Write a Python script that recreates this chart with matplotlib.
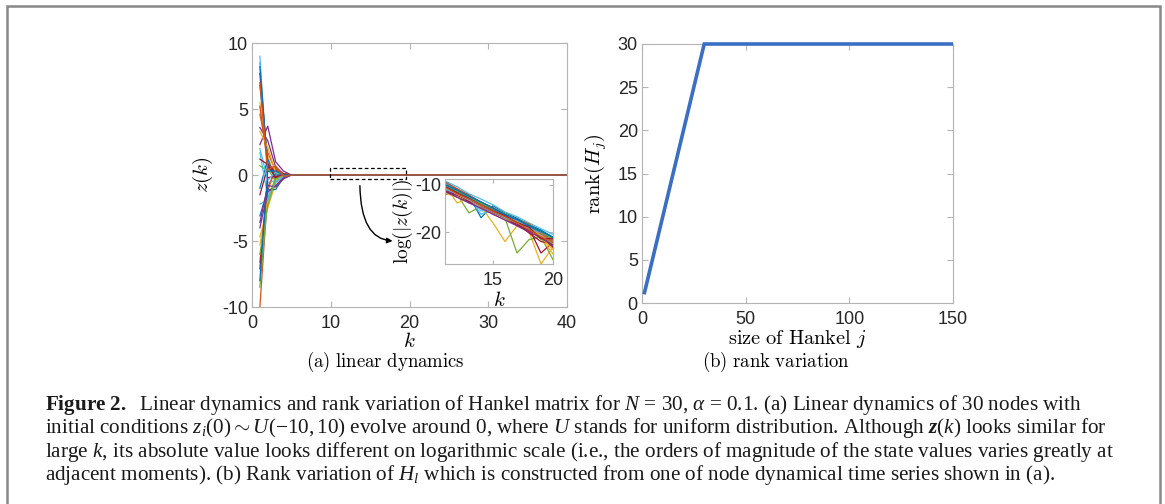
import numpy as np
import matplotlib
matplotlib.use("Agg")
import matplotlib.pyplot as plt
from matplotlib.patches import Rectangle

plt.rcParams['font.family'] = ['Liberation Sans', 'DejaVu Sans']
plt.rcParams['axes.unicode_minus'] = False
plt.rcParams['mathtext.fontset'] = 'custom'
plt.rcParams['mathtext.rm'] = 'Liberation Serif'
plt.rcParams['mathtext.it'] = 'Liberation Serif:italic'
plt.rcParams['mathtext.bf'] = 'Liberation Serif:bold'
plt.rcParams['mathtext.bfit'] = 'Liberation Serif:bold:italic'

# matlab default colour order
colors = ['#0072BD', '#D95319', '#EDB120', '#7E2F8E', '#77AC30', '#4DBEEE', '#A2142F']

# (a) z(k) of the 30 nodes for k = 1..5; ~0 afterwards
k_main = np.arange(1, 41)
z_early = [
    [6.8, 0.9, -0.3, 0.05, 0.0],
    [-10.0, -1.2, 0.6, -0.1, 0.0],
    [5.5, 1.4, -0.2, 0.1, 0.0],
    [3.6, 2.6, 0.6, 0.1, 0.0],
    [8.5, 0.5, -0.5, 0.1, 0.0],
    [9.0, -0.6, -0.4, 0.05, 0.0],
    [7.7, 0.8, 0.2, -0.1, 0.0],
    [-1.0, 1.2, -0.3, 0.0, 0.0],
    [-6.6, -0.9, 0.3, 0.1, 0.0],
    [-4.7, -2.5, -0.6, -0.1, 0.0],
    [2.3, 3.7, 1.0, 0.3, 0.0],
    [-8.5, -1.8, -0.2, 0.0, 0.0],
    [1.7, -1.6, -0.6, -0.1, 0.0],
    [-1.5, 0.6, 0.4, 0.1, 0.0],
    [-3.1, -1.1, -1.1, -0.2, 0.0],
    [4.6, 1.7, 0.3, 0.0, 0.0],
    [-5.3, -2.0, -0.4, 0.0, 0.0],
    [-4.0, -1.3, -0.8, -0.2, 0.0],
    [0.7, 0.3, 0.1, 0.0, 0.0],
    [-2.2, -1.9, -0.5, -0.1, 0.0],
    [-7.1, -0.2, -0.1, 0.0, 0.0],
    [8.2, 0.6, 0.0, 0.0, 0.0],
    [5.2, 0.7, 0.5, -0.1, 0.0],
    [3.3, 2.1, 0.2, 0.1, 0.0],
    [-3.6, -0.8, -0.9, -0.3, 0.0],
    [-6.0, -2.3, -0.3, 0.0, 0.0],
    [2.0, -0.4, 0.2, 0.0, 0.0],
    [1.2, 0.8, -0.2, 0.1, 0.0],
    [-8.0, 0.3, 0.3, 0.0, 0.0],
    [7.0, 0.4, 0.7, -0.1, 0.0],
]

# inset: log(|z(k)|) for k = 11..20
k_inset = np.arange(11, 21)
inset_logz = [
    [-9.4, -10.9, -12.3, -16.9, -14.4, -15.9, -17.0, -18.3, -19.5, -21.0],
    [-10.2, -11.0, -12.6, -13.7, -15.0, -16.1, -17.4, -18.4, -20.0, -21.3],
    [-11.0, -12.3, -13.4, -14.6, -18.0, -21.9, -18.6, -19.8, -26.6, -23.0],
    [-11.8, -12.4, -13.8, -14.8, -16.1, -17.1, -18.5, -19.4, -21.0, -22.0],
    [-10.8, -12.0, -15.9, -14.5, -15.6, -17.0, -24.3, -21.5, -20.9, -25.7],
    [-9.2, -10.4, -11.9, -13.0, -14.2, -15.7, -16.7, -18.0, -19.2, -20.4],
    [-10.4, -11.6, -12.8, -14.1, -15.3, -16.7, -17.9, -19.1, -24.3, -22.0],
    [-9.8, -11.1, -12.2, -13.7, -14.8, -16.2, -17.3, -18.8, -19.8, -21.3],
    [-12.1, -11.5, -13.1, -14.5, -15.5, -16.8, -17.6, -19.4, -20.6, -21.6],
    [-10.1, -13.8, -12.9, -14.0, -15.2, -16.9, -17.7, -19.6, -21.2, -24.5],
    [-10.9, -12.4, -13.0, -14.6, -15.7, -17.2, -18.1, -19.7, -20.2, -22.4],
    [-10.6, -11.9, -13.3, -14.3, -15.3, -16.4, -17.6, -18.7, -20.6, -21.7],
    [-10.0, -11.3, -12.6, -16.2, -15.1, -16.3, -17.8, -18.6, -20.1, -22.9],
    [-11.2, -12.6, -13.5, -15.0, -16.1, -17.3, -18.2, -20.1, -21.9, -22.4],
    [-10.3, -11.4, -12.8, -13.9, -15.4, -16.4, -17.7, -18.8, -20.4, -21.2],
    [-9.5, -10.8, -12.2, -13.6, -14.8, -16.1, -17.3, -18.2, -20.0, -22.0],
    [-11.8, -12.5, -13.2, -14.9, -16.0, -17.2, -18.0, -19.5, -21.0, -23.6],
    [-10.7, -12.0, -13.3, -14.3, -15.6, -16.6, -18.0, -19.2, -20.5, -22.6],
    [-10.5, -11.8, -13.0, -14.2, -15.5, -16.6, -17.9, -19.0, -21.5, -22.1],
    [-9.9, -11.2, -12.5, -15.5, -15.1, -16.5, -17.6, -19.0, -20.3, -21.9],
    [-10.8, -12.1, -13.3, -14.4, -15.8, -16.9, -18.2, -19.6, -20.7, -23.1],
    [-10.2, -11.5, -12.7, -14.0, -15.2, -16.3, -17.3, -18.6, -19.9, -21.1],
    [-11.0, -11.6, -13.2, -14.2, -15.4, -16.8, -17.9, -19.3, -20.4, -21.9],
    [-10.6, -12.0, -13.1, -14.5, -15.5, -16.7, -17.8, -19.1, -20.6, -22.3],
    [-11.4, -12.6, -13.8, -14.9, -16.2, -17.4, -18.6, -19.9, -21.1, -22.7],
    [-10.1, -11.3, -12.5, -13.9, -15.0, -16.0, -17.4, -18.4, -19.8, -21.4],
    [-10.9, -11.9, -13.2, -14.4, -15.7, -16.9, -18.0, -19.3, -20.8, -22.2],
    [-10.4, -11.7, -12.9, -14.3, -15.5, -16.5, -17.9, -18.9, -21.3, -21.3],
    [-10.0, -11.1, -12.4, -13.6, -14.9, -16.2, -17.3, -18.5, -19.7, -21.0],
    [-10.5, -11.9, -13.0, -14.3, -15.6, -16.7, -18.0, -19.4, -20.9, -22.1],
]

# (b) rank of Hankel matrix vs size j (break points)
hankel_j = [1, 30, 150]
hankel_rank = [1, 30, 30]

caption = [
    r"$\mathbf{Figure\ 2.}$  Linear dynamics and rank variation of Hankel matrix for $N$ = 30, $\alpha$ = 0.1. (a) Linear dynamics of 30 nodes with",
    r"initial conditions $z_i(0) \sim U(-10, 10)$ evolve around 0, where $U$ stands for uniform distribution. Although $\mathbfit{z}(k)$ looks similar for",
    r"large $k$, its absolute value looks different on logarithmic scale (i.e., the orders of magnitude of the state values varies greatly at",
    r"adjacent moments). (b) Rank variation of $H_l$ which is constructed from one of node dynamical time series shown in (a).",
]

W, H = 1165, 504
fig = plt.figure(figsize=(W / 100, H / 100), dpi=100)
spine_c = '#b4b4b4'
tick_c = '#262626'


def matlab_axes(ax):
    for s in ax.spines.values():
        s.set_color(spine_c)
        s.set_linewidth(0.8)
    ax.tick_params(direction='in', top=True, right=True, length=4,
                   color=spine_c, labelcolor=tick_c, labelsize=13)
    ax.tick_params(axis='x', pad=6)
    ax.tick_params(axis='y', pad=3)


def px(x0, y0, x1, y1):
    return [x0 / W, 1 - y1 / H, (x1 - x0) / W, (y1 - y0) / H]


# ---- (a)
ax1 = fig.add_axes(px(252, 43, 567, 307))
for i, row in enumerate(z_early):
    z = np.array(row + [0.0] * (len(k_main) - len(row)))
    ax1.plot(k_main, z, color=colors[i % 7], lw=0.9)
ax1.set_xlim(0, 40)
ax1.set_ylim(-10, 10)
ax1.set_xticks([0, 10, 20, 30, 40])
ax1.set_yticks([-10, -5, 0, 5, 10])
matlab_axes(ax1)
ax1.set_xlabel(r'$k$', fontsize=15, math_fontfamily='cm', labelpad=0)
ax1.set_ylabel(r'$z(k)$', fontsize=15, math_fontfamily='cm', labelpad=5)
ax1.add_patch(Rectangle((9.9, -0.32), 9.6, 0.82, fill=False, ec='black',
                        ls=(0, (3, 2)), lw=0.9, zorder=5))
ax1.annotate('', xy=(18.2, -5.0), xytext=(13.7, -0.6),
             arrowprops=dict(arrowstyle='-|>', color='black', lw=1,
                             mutation_scale=8,
                             connectionstyle='angle3,angleA=90,angleB=0'))

# inset
axi = fig.add_axes(px(445, 179, 553, 264))
for i, row in enumerate(inset_logz):
    axi.plot(k_inset, row, color=colors[i % 7], lw=0.9)
axi.set_xlim(11, 20)
axi.set_ylim(-26.6, -8.8)
axi.set_xticks([15, 20])
axi.set_yticks([-20, -10])
matlab_axes(axi)
axi.tick_params(length=3)
axi.set_xlabel(r'$k$', fontsize=15, math_fontfamily='cm', labelpad=1)
axi.set_ylabel(r'$\log(|z(k)|)$', fontsize=14, math_fontfamily='cm', labelpad=0)

# ---- (b)
ax2 = fig.add_axes(px(642, 44, 953, 303))
ax2.plot(hankel_j, hankel_rank, color='#3a6fc4', lw=2.6, clip_on=False,
         solid_joinstyle='miter', solid_capstyle='butt', zorder=3)
ax2.set_xlim(0, 150)
ax2.set_ylim(0, 30)
ax2.set_xticks([0, 50, 100, 150])
ax2.set_yticks([0, 5, 10, 15, 20, 25, 30])
matlab_axes(ax2)
ax2.set_xlabel(r'$\mathrm{size\ of\ Hankel}\ j$', fontsize=14.7, math_fontfamily='cm', labelpad=0)
ax2.set_ylabel(r'$\mathrm{rank}(H_j)$', fontsize=14.7, math_fontfamily='cm', labelpad=6)

fig.text(385 / W, 1 - 361.5 / H, r'$\mathrm{(a)\ linear\ dynamics}$', fontsize=13.5,
         math_fontfamily='cm', ha='center', va='center')
fig.text(776 / W, 1 - 361.5 / H, r'$\mathrm{(b)\ rank\ variation}$', fontsize=13.5,
         math_fontfamily='cm', ha='center', va='center')

# caption
for i, line in enumerate(caption):
    fig.text(45 / W, 1 - (405 + 23.3 * i) / H, line, fontsize=15.2,
             family='Liberation Serif', ha='left', va='center', color='#1a1a1a')

# frame around figure
fig.add_artist(Rectangle((7 / W, -0.05), (1160 - 7) / W, 1.05 - 6 / H,
                         transform=fig.transFigure, fill=False,
                         ec='#888888', lw=1.8))

fig.savefig('out.png', dpi=100)
